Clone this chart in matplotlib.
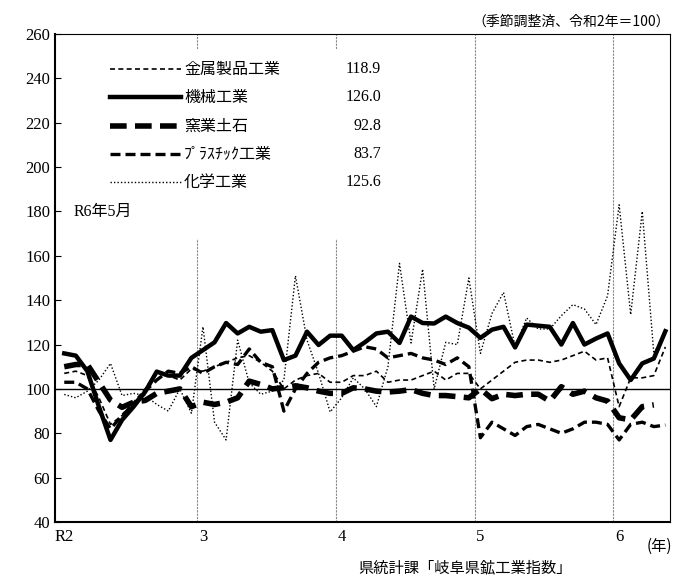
import numpy as np
import matplotlib.pyplot as plt
from matplotlib.patches import Rectangle

plt.rcParams['font.family'] = ['Liberation Serif', 'Noto Sans CJK JP', 'DejaVu Sans']

# 月次データ R2年1月〜R6年5月
metal = [107, 108, 106, 96, 84, 88, 94, 100, 108, 106, 104, 109, 108, 110, 112, 114, 115, 112,
         108, 100, 104, 106, 107, 103, 103, 106, 106, 108, 103, 104, 104, 106, 108, 104, 107, 107,
         100, 104, 108, 112, 113, 113, 112, 113, 115, 117, 113, 114, 92, 105, 105, 106, 118.9]
machine = [116, 115, 108, 92, 77, 86, 92, 98.7, 107.8, 106, 106, 114, 117.5, 121, 129.7, 125, 128,
           125.8, 126.5, 113, 115, 125.8, 119.8, 124, 124, 117.5, 121, 125, 125.8, 120.7, 132.6,
           129.7, 129.5, 132.6, 129.7, 127.6, 123, 126.7, 128, 118.7, 129, 128.5, 128, 120, 129.7,
           120, 122.7, 125, 111.5, 104, 111.5, 113.7, 126.0]
ceramic = [110, 111, 111, 103, 95, 91.7, 94, 94.8, 98, 99, 100, 92, 94, 93, 94, 96, 103.5, 102,
           100, 100.6, 101.4, 100.5, 99, 98, 98, 100.5, 100, 99, 98.6, 99, 99.7, 98, 97, 97, 96.5,
           96, 100, 95.6, 97.6, 97, 97.6, 97.6, 94.5, 101, 97.6, 99, 96, 94.5, 87, 86, 92, 92.8, np.nan]
plastic = [103, 103, 100, 90, 82, 88, 93, 99, 104, 108, 107, 110, 107, 110, 112, 111, 118, 112,
           110, 90, 100, 107, 112, 114, 115, 117, 119, 118, 114, 115, 116, 114, 113, 111, 114, 110,
           78, 85, 82, 79, 83, 84, 82, 80, 82, 85, 85, 84, 77, 84, 85, 83, 83.7]
chem = [97.5, 96, 99, 104, 111.5, 97, 98, 97, 93, 90, 100, 89, 128, 85, 77, 122, 102.7, 97.6, 99,
        104, 151, 122, 107, 89.6, 96, 105, 100, 92, 110, 156.6, 120.7, 154, 100, 121, 120, 150,
        116, 134, 143.5, 119, 132, 127, 127, 133, 138, 136, 129, 142, 183, 133.5, 180, 116, 125.6]

names = ['金属製品工業', '機械工業', '窯業土石', 'ﾌﾟﾗｽﾁｯｸ工業', '化学工業']
latest = ['118.9', '126.0', '92.8', '83.7', '125.6']
styles = [dict(lw=1.2, ls=(0, (3, 2))), dict(lw=3.2, ls='-'), dict(lw=4, ls=(0, (3, 1.5))),
          dict(lw=2.4, ls=(0, (3, 1.5))), dict(lw=1.0, ls=(0, (1, 1.5)))]
series = [metal, machine, ceramic, plastic, chem]

x = np.arange(len(metal))
fig = plt.figure(figsize=(6.74, 5.83), dpi=100)
ax = fig.add_axes([55 / 674, 61 / 583, 615 / 674, 488 / 583])

for yr in [11.5, 23.5, 35.5, 47.5]:
    ax.axvline(yr, color='#888888', lw=0.8, ls=(0, (2, 1)), zorder=1)
ax.axhline(100, color='black', lw=1.0, zorder=2)
ax.add_patch(Rectangle((0.08, 0.58), 0.46, 0.39, transform=ax.transAxes,
                       facecolor='white', edgecolor='none', zorder=1.5))

for s, st in zip(series, styles):
    ax.plot(x, s, color='black', zorder=3, **st)

# 凡例
for k, (nm, v, st) in enumerate(zip(names, latest, styles)):
    yy = 0.928 - k * 0.058
    ax.plot([0.09, 0.205], [yy, yy], transform=ax.transAxes, color='black', **st)
    ax.text(0.21, yy, nm, transform=ax.transAxes, va='center', fontsize=11.5,
            family=['Noto Sans CJK JP', 'DejaVu Sans'])
    ax.text(0.53, yy, v, transform=ax.transAxes, va='center', ha='right', fontsize=11.5)
ax.text(0.03, 0.635, 'R6年5月', transform=ax.transAxes, va='center', fontsize=11.5,
        family=['Liberation Serif', 'Noto Sans CJK JP'])

ax.set_xlim(-0.8, 52.4)
ax.set_ylim(40, 260)
ax.set_yticks(range(40, 261, 20))
ax.set_xticks([0, 12, 24, 36, 48])
ax.set_xticklabels(['R2', '3', '4', '5', '6'])
ax.tick_params(axis='y', direction='in', length=4, labelsize=12)
ax.tick_params(axis='x', length=0, labelsize=12, pad=5)
for sp in ['top', 'right']:
    ax.spines[sp].set_linewidth(0.8)
ax.spines['left'].set_linewidth(1.5)
ax.spines['bottom'].set_linewidth(1.5)

fig.text(670 / 674, 1 - 22 / 583, '（季節調整済、令和2年＝100）', ha='right', va='center', fontsize=10,
         family=['Noto Sans CJK JP', 'DejaVu Sans'])
fig.text(672 / 674, 1 - 546 / 583, '(年)', ha='right', va='center', fontsize=11,
         family=['Noto Sans CJK JP', 'DejaVu Sans'])
fig.text(465 / 674, 1 - 568 / 583, '県統計課「岐阜県鉱工業指数」', ha='center', va='center', fontsize=11,
         family=['Noto Sans CJK JP', 'DejaVu Sans'])

fig.savefig('out.png', dpi=100)
